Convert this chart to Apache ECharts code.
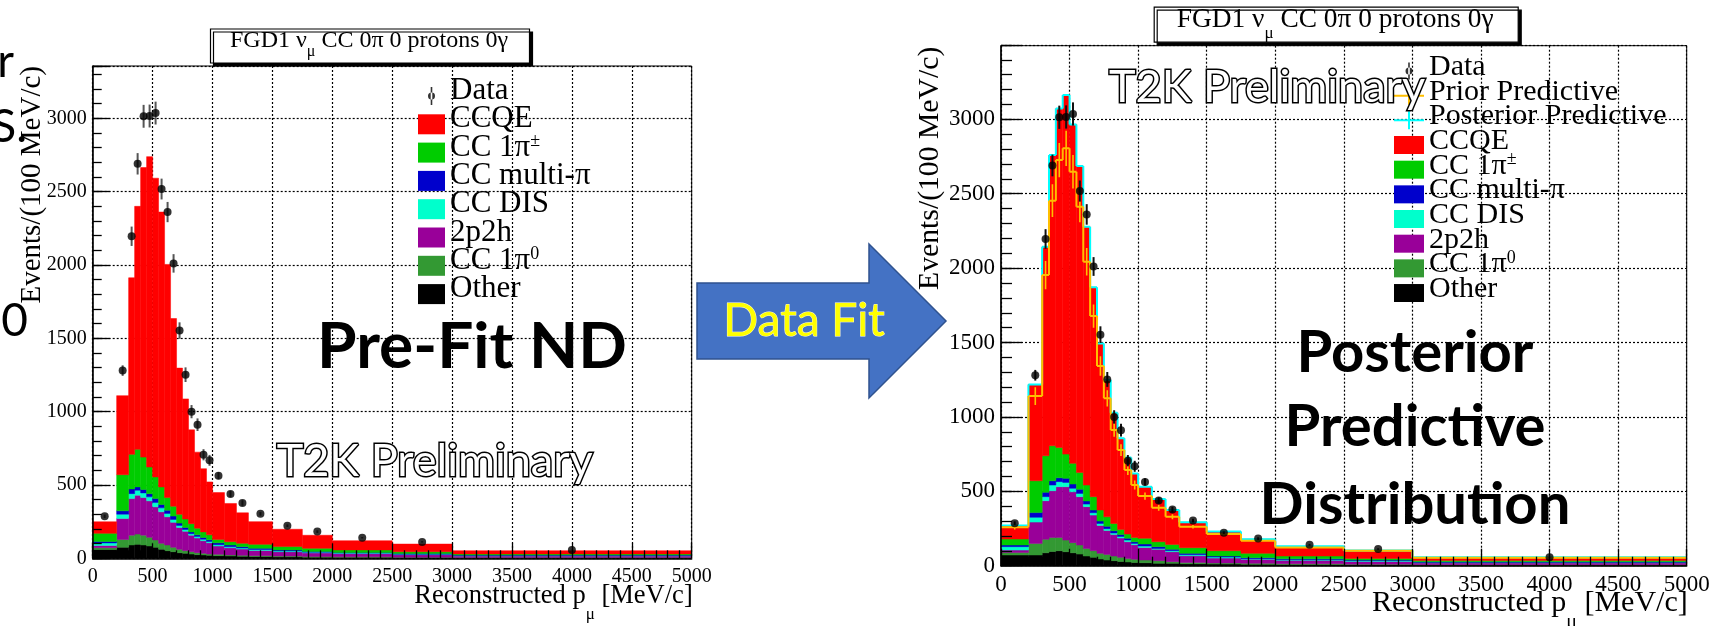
<!DOCTYPE html>
<html><head><meta charset="utf-8">
<script src="https://cdn.jsdelivr.net/npm/echarts@6/dist/echarts.min.js"></script>
<style>html,body{margin:0;padding:0;background:#fff}#c{width:1714px;height:626px}</style>
</head><body><div id="c"></div>
<script>
// ---------------- DATA ----------------
const binEdges = [0,200,300,350,400,450,500,550,600,650,700,750,800,850,900,950,1000,1100,1200,1300,1500,1750,2000,2500,3000,5000];

const dataValues = [286,1280,2196,2690,3014,3016,3036,2518,2361,2011,1553,1252,1000,911,706,668,563,439,377,303,222,182,140,112,57];
const dataErrors = [12,36,66,73,78,78,78,71,69,63,56,50,45,43,38,37,24,21,19,12,9,9,5,5,2];

// Pre-fit ND components (Events / 100 MeV/c)
const preOther   = [60,75,91,95,91,84,75,61,52,45,38,34,29,25,23,20,18,16,14,12,10,8,7,5,3];
const preCC1pi0  = [12,54,67,70,67,59,50,41,39,30,23,18,16,13,11,9,9,7,6,6,5,4,3,3,2];
const pre2p2h    = [16,143,249,265,256,249,226,215,192,170,149,132,113,100,86,77,57,49,43,36,30,25,22,17,11];
const preDIS     = [17,29,34,34,32,27,29,27,23,20,14,12,10,10,10,9,9,7,7,6,5,5,4,3,3];
const preMultiPi = [10,23,32,23,23,22,27,23,22,23,16,14,12,12,12,11,13,12,9,8,6,5,4,4,3];
const preCC1piPM = [55,246,236,256,221,182,148,120,86,67,60,58,56,45,38,34,23,22,23,27,24,21,17,13,8];
const preCCQE    = [79,539,1204,1657,1975,2116,2037,1874,1590,1280,997,819,640,519,431,361,319,261,208,155,118,89,63,52,22];

// Posterior predictive components
const postOther   = [72,72,87,96,101,94,87,78,65,56,45,38,34,29,25,22,20,16,16,13,11,9,8,6,4];
const postCC1pi0  = [16,78,90,94,89,78,68,61,51,45,38,38,31,27,24,21,18,18,11,9,7,7,5,4,2];
const post2p2h    = [17,143,260,314,341,359,342,325,281,239,188,161,144,130,112,98,85,76,67,45,33,27,23,19,13];
const postDIS     = [23,32,27,38,34,29,23,22,17,16,13,12,11,10,11,9,9,6,7,7,7,4,4,4,3];
const postMultiPi = [11,32,29,29,26,27,29,27,21,18,16,16,15,14,12,11,14,12,9,9,7,7,6,5,4];
const postCC1piPM = [40,214,246,235,204,163,139,114,107,90,74,64,49,34,29,29,38,33,33,38,36,29,19,11,9];
const postCCQE    = [91,647,1405,1954,2278,2413,2278,2059,1736,1407,1120,919,744,612,515,430,347,287,232,171,129,95,65,54,21];

// Prior predictive (right panel)
const priorPred    = [258,1140,1953,2453,2726,2805,2648,2413,2043,1678,1342,1125,912,777,643,542,468,390,329,262,213,168,123,101,54];
const priorPredErr = [15,60,95,110,115,118,112,105,92,78,65,55,46,40,34,30,24,20,17,12,10,8,6,5,3];

const legendNames = ['CCQE','CC 1π±','CC multi-π','CC DIS','2p2h','CC 1π0','Other'];
const stackOrder  = ['Other','CC 1π0','2p2h','CC DIS','CC multi-π','CC 1π±','CCQE'];
const colors = {'CCQE':'#ff0000','CC 1π±':'#00cc00','CC multi-π':'#0000cc','CC DIS':'#00ffcc','2p2h':'#990099','CC 1π0':'#339933','Other':'#000000'};

const preComps  = {'Other':preOther,'CC 1π0':preCC1pi0,'2p2h':pre2p2h,'CC DIS':preDIS,'CC multi-π':preMultiPi,'CC 1π±':preCC1piPM,'CCQE':preCCQE};
const postComps = {'Other':postOther,'CC 1π0':postCC1pi0,'2p2h':post2p2h,'CC DIS':postDIS,'CC multi-π':postMultiPi,'CC 1π±':postCC1piPM,'CCQE':postCCQE};

// ---------------- HELPERS ----------------
const SERIF = '"Liberation Serif","Times New Roman",serif';
const SANS = 'Lato,"Open Sans",sans-serif';
const nBins = binEdges.length - 1;
const centers = binEdges.slice(0, -1).map((e, i) => (e + binEdges[i + 1]) / 2);

const rectItem = color => (params, api) => {
  const a = api.coord([api.value(0), api.value(3)]);
  const b = api.coord([api.value(1), api.value(2)]);
  return {type:'rect', shape:{x:a[0], y:a[1], width:b[0]-a[0], height:b[1]-a[1]},
          style:{fill:color, stroke:color, lineWidth:0.5}};
};

function buildStack(comps, xIdx, yIdx) {
  const cum = new Array(nBins).fill(0);
  const series = stackOrder.map(key => {
    const rows = comps[key].map((v, i) => { const lo = cum[i]; cum[i] += v; return [binEdges[i], binEdges[i+1], lo, cum[i]]; });
    return {type:'custom', name:key, xAxisIndex:xIdx, yAxisIndex:yIdx, data:rows,
            encode:{x:[0,1], y:[2,3]}, renderItem:rectItem(colors[key]), z:2, silent:true, clip:true};
  });
  return {series, total:cum};
}

const stepItem = (color, width, errColor) => (params, api) => {
  const x0 = api.value(0), x1 = api.value(1), v = api.value(2), vp = api.value(3), e = api.value(4);
  const a = api.coord([x0, v]), b = api.coord([x1, v]);
  const ch = [{type:'line', shape:{x1:a[0], y1:a[1], x2:b[0], y2:b[1]}, style:{stroke:color, lineWidth:width}}];
  if (params.dataIndex > 0) {
    const p = api.coord([x0, vp]);
    ch.push({type:'line', shape:{x1:a[0], y1:p[1], x2:a[0], y2:a[1]}, style:{stroke:color, lineWidth:width}});
  }
  if (errColor && e > 0) {
    const xc = (x0 + x1) / 2;
    const t = api.coord([xc, v + e]), d = api.coord([xc, v - e]);
    ch.push({type:'line', shape:{x1:t[0], y1:t[1], x2:d[0], y2:d[1]}, style:{stroke:errColor, lineWidth:1.6}});
  }
  return {type:'group', children:ch};
};

function stepSeries(name, vals, errs, color, width, errColor, xIdx, yIdx, z) {
  const rows = vals.map((v, i) => [binEdges[i], binEdges[i+1], v, i > 0 ? vals[i-1] : v, errs ? errs[i] : 0]);
  return {type:'custom', name, xAxisIndex:xIdx, yAxisIndex:yIdx, data:rows, encode:{x:[0,1], y:[2]},
          renderItem:stepItem(color, width, errColor), z, silent:true, clip:true};
}

function dataSeries(xIdx, yIdx, errColor, size) {
  const errRows = dataValues.map((v, i) => [centers[i], v - dataErrors[i], v + dataErrors[i]]);
  return [
    {type:'custom', name:'Data error', xAxisIndex:xIdx, yAxisIndex:yIdx, data:errRows, encode:{x:0, y:[1,2]}, z:6, silent:true,
     renderItem:(params, api) => {
       const t = api.coord([api.value(0), api.value(2)]), d = api.coord([api.value(0), api.value(1)]);
       return {type:'line', shape:{x1:t[0], y1:t[1], x2:d[0], y2:d[1]}, style:{stroke:errColor, lineWidth:2}};
     }},
    {type:'scatter', name:'Data', xAxisIndex:xIdx, yAxisIndex:yIdx, data:dataValues.map((v, i) => [centers[i], v]),
     symbol:'circle', symbolSize:size, itemStyle:{color:'#000'}, z:7, silent:true}
  ];
}

const dotted = {color:'#000', width:1.2, type:[2,2]};
const tickLS = {color:'#000', width:1.3};

function xAxes(grid, labelSize, majorLen, minorLen, nameSize, subSize, namePad, subPad) {
  return [
    {gridIndex:grid, type:'value', position:'bottom', min:0, max:5000, interval:500,
     axisLine:{show:false, onZero:false}, axisTick:{show:false},
     axisLabel:{color:'#000', fontFamily:SERIF, fontSize:labelSize, margin:8, formatter:v => String(v)},
     splitLine:{show:true, lineStyle:dotted},
     name:'{a|Reconstructed p}{s|μ}{a| [MeV/c]}', nameLocation:'end', nameGap:1, nameMoveOverlap:false,
     nameTextStyle:{align:'right', verticalAlign:'top', padding:[namePad,0,0,0],
       rich:{a:{fontFamily:SERIF, fontSize:nameSize, fontWeight:'normal', color:'#000', lineHeight:50, verticalAlign:'top'},
             s:{fontFamily:SERIF, fontSize:subSize, fontWeight:'normal', color:'#000', lineHeight:20, padding:[0,0,subPad,0], verticalAlign:'bottom'}}}},
    {gridIndex:grid, type:'value', position:'bottom', min:0, max:5000, interval:500, z:10,
     axisLine:{show:true, onZero:false, lineStyle:{color:'#000', width:1.5}},
     axisTick:{show:true, inside:true, length:majorLen, lineStyle:tickLS},
     minorTick:{show:true, splitNumber:5, length:minorLen, lineStyle:tickLS},
     axisLabel:{show:false}, splitLine:{show:false}}
  ];
}

function yAxes(grid, max, labelSize, majorLen, minorLen) {
  return [
    {gridIndex:grid, type:'value', position:'left', min:0, max, interval:500,
     axisLine:{show:false, onZero:false}, axisTick:{show:false},
     axisLabel:{color:'#000', fontFamily:SERIF, fontSize:labelSize, margin:6, showMaxLabel:false,
                formatter:v => (v % 500 === 0 ? String(v) : '')},
     splitLine:{show:true, lineStyle:dotted}},
    {gridIndex:grid, type:'value', position:'left', min:0, max, interval:500, z:10,
     axisLine:{show:true, onZero:false, lineStyle:{color:'#000', width:1.5}},
     axisTick:{show:true, inside:true, length:majorLen, lineStyle:tickLS},
     axisLabel:{show:false}, splitLine:{show:false}},
    {gridIndex:grid, type:'value', position:'left', min:0, max, interval:100, z:10,
     axisLine:{show:false, onZero:false},
     axisTick:{show:true, inside:true, length:minorLen, lineStyle:tickLS},
     axisLabel:{show:false}, splitLine:{show:false}}
  ];
}

const legendFmt = name => {
  if (name === 'CC 1π±') return '{t|CC 1π}{sup|±}';
  if (name === 'CC 1π0') return '{t|CC 1π}{sup|0}';
  return '{t|' + name + '}';
};
// line box = fs + lift; glyph raised by lift/2 above the symbol centre
function legendRich(fs, lift) {
  return {t:{fontFamily:SERIF, fontSize:fs, fontWeight:'normal', color:'#000', lineHeight:fs + lift, padding:[0,0,lift,0]},
          sup:{fontFamily:SERIF, fontSize:18, fontWeight:'normal', color:'#000', lineHeight:14, verticalAlign:'top'}};
}
const dataIconL = 'path://M12.7 1h1.6v18h-1.6z M13.5 6.5a3.5 3.5 0 1 0 0.001 0z M0 0h0.01v0.01h-0.01z M26.99 19.99h0.01v0.01h-0.01z';
const dataIconR = 'path://M14.2 0.5h1.6v17h-1.6z M15 5.5a3.5 3.5 0 1 0 0.001 0z M0 0h0.01v0.01h-0.01z M29.99 17.99h0.01v0.01h-0.01z';
const crossIcon = 'path://M0 8h30v2h-30z M14 0h2v18h-2z';

function titleRich(main, sub, boxH, padSub) {
  return {a:{fontFamily:SERIF, fontSize:main, fontWeight:'normal', color:'#000', lineHeight:boxH, verticalAlign:'top'},
          s:{fontFamily:SERIF, fontSize:sub, fontWeight:'normal', color:'#000', lineHeight:sub, padding:[0,0,padSub,0], verticalAlign:'bottom'}};
}
const titleText = '{a|FGD1 ν}{s|μ}{a| CC 0π 0 protons 0γ}';

const outlined = (x, y, text) => ({type:'text', x, y, z:51,
  style:{text, fontFamily:SANS, fontSize:45, fill:'#fff', stroke:'#000', lineWidth:3, strokeFirst:true, align:'left', verticalAlign:'middle'}});

// ---------------- BUILD ----------------
const left = buildStack(preComps, 0, 0);
const right = buildStack(postComps, 2, 3);
const posteriorPred = right.total;

const series = [
  ...left.series,
  ...dataSeries(0, 0, '#555', 8),
  ...right.series,
  stepSeries('Posterior Predictive', posteriorPred, null, '#00ffff', 2, null, 2, 3, 3),
  stepSeries('Prior Predictive', priorPred, priorPredErr, '#ffbf00', 2, '#ffbf00', 2, 3, 4),
  ...dataSeries(2, 3, '#111', 8)
];

const option = {
  animation:false,
  backgroundColor:'#fff',
  title:[
    {text:titleText, left:210, top:28.5, padding:[0,22,0,20], backgroundColor:'#fff', borderColor:'#000', borderWidth:1.2,
     shadowColor:'#000', shadowBlur:0, shadowOffsetX:3, shadowOffsetY:3,
     textStyle:{fontWeight:'normal', rich:titleRich(24, 16, 35, 4)}},
    {text:titleText, left:1154, top:6.7, padding:[0,25,0,22.7], backgroundColor:'#fff', borderColor:'#000', borderWidth:1.2,
     shadowColor:'#000', shadowBlur:0, shadowOffsetX:3, shadowOffsetY:3,
     textStyle:{fontWeight:'normal', rich:titleRich(27.4, 17, 36, 1)}}
  ],
  grid:[
    {left:92.7, top:66, width:599, height:492.3, show:true, borderColor:'#000', borderWidth:1, backgroundColor:'transparent', outerBoundsMode:'none', containLabel:false},
    {left:1001, top:45.7, width:685.7, height:520, show:true, borderColor:'#000', borderWidth:1, backgroundColor:'transparent', outerBoundsMode:'none', containLabel:false}
  ],
  xAxis:[...xAxes(0, 20, 15, 8, 26.5, 17, 24.5, 10), ...xAxes(1, 23, 17, 9, 30, 20, 22.6, 6)],
  yAxis:[...yAxes(0, 3357, 20, 17, 9), ...yAxes(1, 3495, 23, 21, 11)],
  legend:[
    {left:418, top:75.5, orient:'vertical', itemWidth:27, itemHeight:20, itemGap:-12.7, padding:0, selectedMode:false,
     formatter:legendFmt, textStyle:{fontFamily:SERIF, fontSize:31, fontWeight:'normal', color:'#000', rich:legendRich(31, 10)},
     data:[{name:'Data', icon:dataIconL, itemStyle:{color:'#000', borderWidth:0}},
           ...legendNames.map(n => ({name:n, icon:'rect', itemStyle:{color:colors[n], borderWidth:0}}))]},
    {left:1394, top:52, orient:'vertical', itemWidth:30, itemHeight:18, itemGap:-13.33, padding:0, selectedMode:false,
     formatter:legendFmt, textStyle:{fontFamily:SERIF, fontSize:30, fontWeight:'normal', color:'#000', rich:legendRich(30, 8)},
     data:[{name:'Data', icon:dataIconR, itemStyle:{color:'#000', borderWidth:0}},
           {name:'Prior Predictive', icon:crossIcon, itemStyle:{color:'#ffbf00', borderWidth:0}},
           {name:'Posterior Predictive', icon:crossIcon, itemStyle:{color:'#00ffff', borderWidth:0}},
           ...legendNames.map(n => ({name:n, icon:'rect', itemStyle:{color:colors[n], borderWidth:0}}))]}
  ],
  graphic:[
    {type:'text', x:32.5, y:66, rotation:Math.PI/2, z:20,
     style:{text:'Events/(100 MeV/c)', fontFamily:SERIF, fontSize:29, fill:'#000', align:'right', verticalAlign:'middle'}},
    {type:'text', x:930.5, y:46.7, rotation:Math.PI/2, z:20,
     style:{text:'Events/(100 MeV/c)', fontFamily:SERIF, fontSize:29.7, fill:'#000', align:'right', verticalAlign:'middle'}},
    {type:'polygon', z:50, shape:{points:[[697,283],[869,283],[869,244],[946,321],[869,398],[869,359],[697,359]]},
     style:{fill:'#4472C4', stroke:'#2F528F', lineWidth:1.5}},
    {type:'text', x:804, y:321.5, z:51,
     style:{text:'Data Fit', fontFamily:SANS, fontSize:46, fill:'#ffff00', stroke:'#fffbd0', lineWidth:1, align:'center', verticalAlign:'middle'}},
    {type:'text', x:472, y:347.5, z:51,
     style:{text:'Pre-Fit ND', fontFamily:SANS, fontWeight:'bold', fontSize:64, fill:'#000', align:'center', verticalAlign:'middle'}},
    outlined(276.7, 461.7, 'T2K Preliminary'),
    outlined(1109, 87.3, 'T2K Preliminary'),
    {type:'text', x:1415, y:353.3, z:51,
     style:{text:'Posterior', fontFamily:SANS, fontWeight:'bold', fontSize:58, fill:'#000', align:'center', verticalAlign:'middle'}},
    {type:'text', x:1415, y:427.3, z:51,
     style:{text:'Predictive', fontFamily:SANS, fontWeight:'bold', fontSize:58, fill:'#000', align:'center', verticalAlign:'middle'}},
    {type:'text', x:1415, y:505.5, z:51,
     style:{text:'Distribution', fontFamily:SANS, fontWeight:'bold', fontSize:58, fill:'#000', align:'center', verticalAlign:'middle'}},
    {type:'text', x:14, y:62, z:51, style:{text:'r', fontFamily:SANS, fontSize:46, fill:'#000', align:'right', verticalAlign:'middle'}},
    {type:'text', x:27, y:127, z:51, style:{text:'S.', fontFamily:SANS, fontSize:46, fill:'#000', align:'right', verticalAlign:'middle'}},
    {type:'text', x:28, y:321, z:51, style:{text:'0', fontFamily:SANS, fontSize:46, fill:'#000', align:'right', verticalAlign:'middle'}}
  ],
  series
};

const chart = echarts.init(document.getElementById('c'), null, {renderer:'canvas'});
chart.setOption(option);
</script>
</body></html>
